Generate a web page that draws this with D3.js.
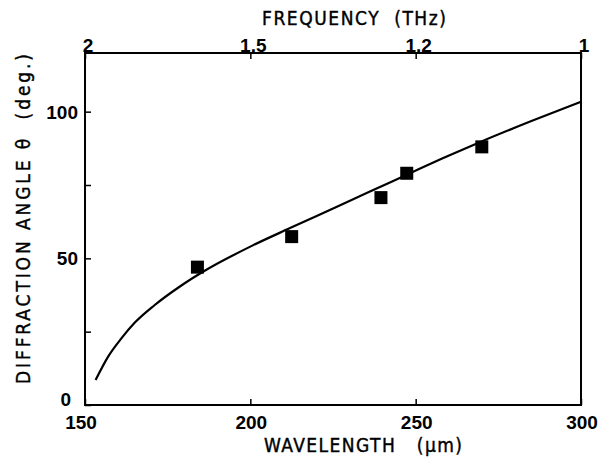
<!DOCTYPE html>
<html>
<head>
<meta charset="utf-8">
<script src="https://cdn.jsdelivr.net/npm/d3@7"></script>
<style>
  body { margin: 0; background: #fff; }
  text { fill: #000; }
  .num { font-family: Arial, "Liberation Sans", sans-serif; font-size: 19px; font-weight: bold; }
  .lab { font-family: "DejaVu Sans Condensed", "Liberation Sans", sans-serif; font-size: 19px; font-weight: normal; stroke: #000; stroke-width: 0.4px; }
</style>
</head>
<body>
<script>
// measured points (wavelength um, angle deg)
let pointLambda = [184, 212.5, 239.5, 247.3, 270]
let pointAngle = [47, 57.4, 70.7, 79, 88]

// theory curve
let curveLambda = [153.2, 157, 161, 165, 171, 178.7, 185.8, 200.9, 212, 224.2, 236, 247.3, 258, 269.4, 285, 300]
let curveAngle = [8.5, 16.5, 22.7, 28, 34, 40.4, 45.5, 54.5, 60.3, 66.6, 72.7, 78.5, 84, 89.6, 96.8, 103.4]

let xTicks = [150, 200, 250, 300]
let yTicks = [0, 50, 100]
let yMinor = [25, 75]
let freqTicks = [2, 1.5, 1.2, 1]

let width = 599, height = 466
let mLeft = 85, mRight = 581, mTop = 53, mBottom = 405

let svg = d3.select('body').append('svg')
  .attr('width', width)
  .attr('height', height)

let x = d3.scaleLinear().domain([150, 300]).range([mLeft, mRight])
let y = d3.scaleLinear().domain([0, 120]).range([mBottom, mTop])

// frame
svg.append('rect')
  .attr('x', mLeft).attr('y', mTop)
  .attr('width', mRight - mLeft).attr('height', mBottom - mTop)
  .attr('fill', 'none').attr('stroke', '#000').attr('stroke-width', 2)

// bottom axis, ticks pointing inward
let xAxis = svg.append('g')
  .attr('transform', `translate(0,${mBottom})`)
  .call(d3.axisTop(x).tickValues(xTicks).tickSize(6).tickFormat(''))
xAxis.select('.domain').remove()
xAxis.selectAll('line').attr('stroke-width', 1.5)

svg.selectAll('.xlab').data(xTicks).enter().append('text')
  .attr('class', 'num')
  .attr('x', d => d == 150 ? x(d) - 4 : x(d) + 1)
  .attr('y', mBottom + 24)
  .attr('text-anchor', 'middle')
  .text(d => d)

// left axis
let yAxis = svg.append('g')
  .attr('transform', `translate(${mLeft},0)`)
  .call(d3.axisRight(y).tickValues(yTicks.concat(yMinor)).tickSize(6).tickFormat(''))
yAxis.select('.domain').remove()
yAxis.selectAll('line').attr('stroke-width', 1.5)

svg.selectAll('.ylab').data(yTicks).enter().append('text')
  .attr('class', 'num')
  .attr('x', d => d == 0 ? mLeft - 14 : mLeft - 7)
  .attr('y', d => d == 0 ? y(d) + 1 : y(d) + 7)
  .attr('text-anchor', 'end')
  .text(d => d)

// top axis: frequency (THz) = 300 / wavelength (um)
let topAxis = svg.append('g')
  .attr('transform', `translate(0,${mTop})`)
  .call(d3.axisBottom(x).tickValues(freqTicks.map(f => 300 / f)).tickSize(6).tickFormat(''))
topAxis.select('.domain').remove()
topAxis.selectAll('line').attr('stroke-width', 1.5)

svg.selectAll('.flab').data(freqTicks).enter().append('text')
  .attr('class', 'num')
  .attr('x', d => x(300 / d) + 3)
  .attr('y', mTop - 1)
  .attr('text-anchor', 'middle')
  .text(d => d)

// curve
let curveData = curveLambda.map((l, i) => [l, curveAngle[i]])
svg.append('path')
  .datum(curveData)
  .attr('fill', 'none')
  .attr('stroke', '#000')
  .attr('stroke-width', 2.2)
  .attr('d', d3.line().x(d => x(d[0])).y(d => y(d[1])).curve(d3.curveMonotoneX))

// squares
let sq = 13
svg.selectAll('.pt').data(pointLambda).enter().append('rect')
  .attr('x', d => x(d) - sq / 2)
  .attr('y', (d, i) => y(pointAngle[i]) - sq / 2)
  .attr('width', sq).attr('height', sq)
  .attr('fill', '#000')

// axis titles
svg.append('text')
  .attr('class', 'lab')
  .attr('x', 262).attr('y', 25)
  .attr('textLength', 184)
  .attr('lengthAdjust', 'spacing')
  .attr('xml:space', 'preserve')
  .text('FREQUENCY  (THz)')

svg.append('text')
  .attr('class', 'lab')
  .attr('x', 264).attr('y', 452)
  .attr('textLength', 198)
  .attr('lengthAdjust', 'spacing')
  .attr('xml:space', 'preserve')
  .text('WAVELENGTH   (μm)')

svg.append('text')
  .attr('class', 'lab')
  .attr('transform', 'translate(30,384) rotate(-90)')
  .attr('textLength', 330)
  .attr('lengthAdjust', 'spacing')
  .attr('xml:space', 'preserve')
  .text('DIFFRACTION ANGLE θ  (deg.)')
</script>
</body>
</html>
